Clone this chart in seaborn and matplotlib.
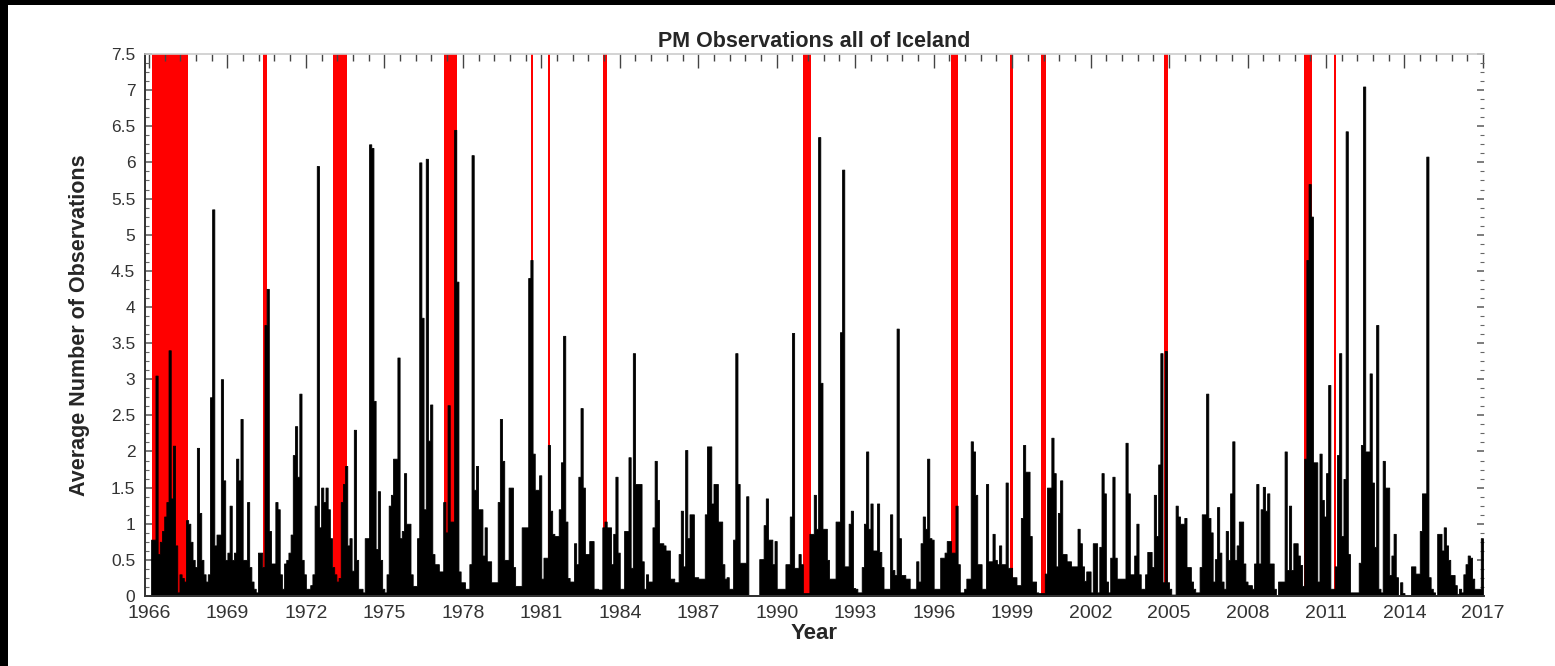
import numpy as np
import pandas as pd
import seaborn as sns
import matplotlib.pyplot as plt
from matplotlib.patches import Rectangle
from matplotlib.ticker import FixedLocator, MultipleLocator, FormatStrFormatter

sns.set_theme(style="white")
plt.rcParams['font.family'] = ['Liberation Sans', 'DejaVu Sans']

# Monthly average number of PM observations, Jan 1966 .. Dec 2016
obs_1966_1975 = [
    0.0, 0.78, 0.78, 3.05, 0.58, 0.75, 0.9, 1.1, 1.3, 3.4, 1.35, 2.08,
    0.7, 0.05, 0.3, 0.25, 0.2, 1.05, 1.0, 0.75, 0.5, 0.4, 2.05, 1.15,
    0.5, 0.3, 0.2, 0.3, 2.75, 5.35, 0.7, 0.85, 0.85, 3.0, 1.6, 0.5,
    0.6, 1.25, 0.5, 0.6, 1.9, 1.6, 2.45, 0.5, 0.5, 1.3, 0.4, 0.2,
    0.1, 0.05, 0.6, 0.6, 0.4, 3.75, 4.25, 0.9, 0.45, 0.45, 1.3, 1.2,
    0.3, 0.1, 0.45, 0.5, 0.6, 0.85, 1.95, 2.35, 1.65, 2.8, 0.5, 0.3,
    0.1, 0.1, 0.15, 0.3, 1.25, 5.95, 0.95, 1.5, 1.3, 1.5, 1.2, 0.8,
    0.4, 0.3, 0.2, 0.25, 1.3, 1.55, 1.8, 0.7, 0.8, 0.35, 2.3, 0.5,
    0.1, 0.1, 0.05, 0.8, 0.8, 6.25, 6.2, 2.7, 0.65, 1.45, 0.5, 0.1,
    0.05, 0.3, 1.25, 1.4, 1.9, 1.9, 3.3, 0.8, 0.9, 1.7, 1.0, 1.0,
]
obs_1976_1985 = [
    0.3, 0.14, 0.14, 0.8, 6.0, 3.85, 1.2, 6.05, 2.15, 2.65, 0.58, 0.44,
    0.44, 0.34, 0.34, 1.3, 0.88, 2.64, 1.03, 1.03, 6.45, 4.35, 0.34, 0.19,
    0.19, 0.1, 0.1, 0.44, 6.1, 1.47, 1.8, 1.2, 1.2, 0.56, 0.95, 0.48,
    0.48, 0.19, 0.19, 0.19, 1.3, 2.45, 1.87, 0.5, 0.5, 1.5, 1.5, 0.4,
    0.14, 0.14, 0.14, 0.95, 0.95, 0.95, 4.4, 4.65, 1.97, 1.47, 1.47, 1.67,
    0.24, 0.53, 0.53, 2.09, 1.18, 0.86, 0.83, 0.83, 1.2, 1.85, 3.6, 1.03,
    0.25, 0.2, 0.2, 0.73, 0.44, 1.65, 2.6, 1.5, 0.58, 0.58, 0.76, 0.76,
    0.1, 0.1, 0.09, 0.09, 0.95, 1.03, 0.95, 0.95, 0.44, 0.86, 1.65, 0.6,
    0.1, 0.1, 0.9, 0.9, 1.92, 0.39, 3.36, 1.55, 1.55, 1.55, 0.48, 0.1,
    0.3, 0.2, 0.2, 0.95, 1.87, 1.33, 0.73, 0.73, 0.7, 0.63, 0.63, 0.24,
]
obs_1986_1995 = [
    0.24, 0.19, 0.19, 0.58, 1.18, 0.41, 2.02, 0.8, 1.13, 1.13, 0.26, 0.26,
    0.24, 0.24, 0.24, 1.13, 2.07, 2.07, 1.28, 1.55, 1.55, 1.03, 1.03, 0.44,
    0.24, 0.26, 0.1, 0.1, 0.78, 3.36, 1.55, 0.46, 0.46, 0.46, 1.38, 0.01,
    0.01, 0.01, 0.01, 0.01, 0.51, 0.51, 0.98, 1.35, 0.78, 0.78, 0.44, 0.76,
    0.1, 0.1, 0.1, 0.1, 0.44, 0.44, 1.1, 3.64, 0.39, 0.39, 0.58, 0.44,
    0.04, 0.04, 0.04, 0.86, 0.86, 1.4, 0.93, 6.35, 2.95, 0.93, 0.93, 0.5,
    0.24, 0.24, 0.24, 1.03, 1.03, 3.65, 5.9, 0.41, 0.41, 1.0, 1.18, 0.11,
    0.1, 0.05, 0.05, 0.4, 1.0, 2.0, 0.93, 1.28, 0.63, 0.63, 1.28, 0.61,
    0.4, 0.1, 0.1, 0.1, 1.13, 0.36, 0.29, 3.7, 0.8, 0.29, 0.29, 0.24,
    0.24, 0.1, 0.1, 0.1, 0.48, 0.2, 0.73, 1.1, 0.93, 1.9, 0.8, 0.78,
]
obs_1996_2005 = [
    0.1, 0.1, 0.1, 0.53, 0.53, 0.6, 0.76, 0.76, 0.6, 0.6, 1.25, 0.44,
    0.05, 0.05, 0.1, 0.24, 0.24, 2.14, 2.0, 1.4, 0.44, 0.44, 0.1, 0.1,
    1.55, 0.48, 0.48, 0.86, 0.5, 0.44, 0.7, 0.44, 0.44, 1.57, 0.39, 0.39,
    0.26, 0.26, 0.15, 0.15, 1.08, 2.09, 1.72, 1.72, 0.83, 0.2, 0.2, 0.05,
    0.04, 0.04, 0.04, 0.31, 1.5, 1.5, 2.19, 1.7, 0.41, 1.15, 1.6, 0.58,
    0.58, 0.48, 0.48, 0.41, 0.41, 0.41, 0.93, 0.73, 0.41, 0.21, 0.34, 0.34,
    0.05, 0.73, 0.73, 0.05, 0.68, 1.7, 1.42, 0.2, 0.05, 0.53, 1.65, 0.53,
    0.24, 0.24, 0.24, 0.24, 2.12, 1.42, 0.3, 0.3, 0.56, 1.0, 0.3, 0.1,
    0.1, 0.3, 0.61, 0.61, 0.4, 1.4, 0.83, 1.82, 3.36, 0.19, 3.39, 0.19,
    0.1, 0.02, 0.02, 1.25, 1.1, 1.0, 1.0, 1.08, 0.4, 0.4, 0.2, 0.1,
]
obs_2006_2016 = [
    0.05, 0.05, 0.4, 1.13, 1.13, 2.8, 1.08, 0.88, 0.2, 0.51, 1.23, 0.6,
    0.2, 0.1, 0.9, 0.5, 1.42, 2.14, 0.5, 0.7, 1.03, 1.03, 0.45, 0.2,
    0.15, 0.15, 0.1, 0.45, 1.55, 0.45, 1.2, 1.51, 1.18, 1.42, 0.45, 0.45,
    0.1, 0.0, 0.2, 0.2, 0.2, 2.0, 0.36, 1.25, 0.36, 0.73, 0.73, 0.56,
    0.43, 0.14, 1.9, 4.65, 5.7, 5.25, 1.85, 1.85, 0.2, 1.97, 1.33, 1.1,
    1.7, 2.92, 0.1, 0.1, 0.41, 1.95, 3.36, 0.83, 1.62, 6.43, 0.58, 0.05,
    0.05, 0.05, 0.05, 0.46, 2.09, 7.05, 2.0, 2.0, 3.08, 1.57, 0.68, 3.75,
    0.1, 0.05, 1.87, 1.5, 1.5, 0.29, 0.56, 0.86, 0.26, 0.01, 0.19, 0.04,
    0.01, 0.01, 0.01, 0.41, 0.41, 0.31, 0.31, 0.9, 1.42, 1.42, 6.08, 0.26,
    0.1, 0.05, 0.01, 0.86, 0.86, 0.63, 0.95, 0.7, 0.5, 0.29, 0.29, 0.15,
    0.03, 0.1, 0.05, 0.3, 0.44, 0.56, 0.53, 0.24, 0.1, 0.1, 0.1, 0.8,
]

# Eruption periods shaded in red (decimal years)
red_start = [1966.11, 1970.35, 1973.05, 1977.28, 1980.60, 1981.26, 1983.35,
             1991.00, 1996.65, 1998.92, 2000.09, 2004.80, 2010.17, 2011.30]
red_end = [1967.51, 1970.50, 1973.56, 1977.77, 1980.67, 1981.33, 1983.50,
           1991.30, 1996.94, 1999.02, 2000.29, 2004.96, 2010.47, 2011.39]

year_ticks = list(range(1966, 2018, 3))

values = obs_1966_1975 + obs_1976_1985 + obs_1986_1995 + obs_1996_2005 + obs_2006_2016
n = len(values)
df = pd.DataFrame({'year': 1966 + (np.arange(n) + 0.5) / 12, 'obs': values})

fig = plt.figure(figsize=(15.55, 6.66), dpi=100)
ax = fig.add_axes([145 / 1555, 1 - 596 / 666, (1484 - 145) / 1555, (596 - 54) / 666])

for s, e in zip(red_start, red_end):
    ax.axvspan(s, e, color='red', lw=0, zorder=0)

sns.histplot(data=df, x='year', weights='obs', binwidth=1 / 12, binrange=(1966, 1966 + n / 12),
             element='step', fill=True, color='black', alpha=1, linewidth=0.6,
             ax=ax, zorder=2)

ax.set_xlim(1965.85, 2017.04)
ax.set_ylim(0, 7.5)

ax.xaxis.set_major_locator(FixedLocator(year_ticks))
ax.xaxis.set_minor_locator(FixedLocator(np.arange(1966, 2017.01, 0.6)))
ax.yaxis.set_major_locator(MultipleLocator(0.5))
ax.yaxis.set_minor_locator(MultipleLocator(0.125))
ax.yaxis.set_major_formatter(FormatStrFormatter('%g'))

ax.tick_params(axis='x', which='both', bottom=False, top=True, direction='in',
               color='#444444', labelsize=14, labelcolor='#333333', pad=6.5)
ax.tick_params(axis='x', which='major', length=10, width=1)
ax.tick_params(axis='x', which='minor', length=5, width=1)
ax.tick_params(axis='y', which='both', left=True, right=True, direction='in',
               color='#666666', labelsize=12.5, labelcolor='#333333', pad=7)
ax.tick_params(axis='y', which='major', length=5, width=1.2)
ax.tick_params(axis='y', which='minor', length=3, width=0.8)

for side in ['left', 'bottom']:
    ax.spines[side].set_color('#333333')
    ax.spines[side].set_linewidth(1.4)
ax.spines['top'].set_color('#cccccc')
ax.spines['top'].set_linewidth(1.2)
ax.spines['right'].set_visible(False)

ax.set_title('PM Observations all of Iceland', fontsize=15.5, fontweight='bold', pad=5)
ax.set_xlabel('Year', fontsize=16, fontweight='bold', labelpad=1)
ax.set_ylabel('Average Number of Observations', fontsize=15.5, fontweight='bold', labelpad=15)

# black frame strips along the top and left edges
fig.add_artist(Rectangle((0, 1 - 5 / 666), 1, 5 / 666, transform=fig.transFigure,
                         color='black', lw=0))
fig.add_artist(Rectangle((0, 0), 8 / 1555, 1, transform=fig.transFigure,
                         color='black', lw=0))

fig.savefig('out.png', dpi=100)
